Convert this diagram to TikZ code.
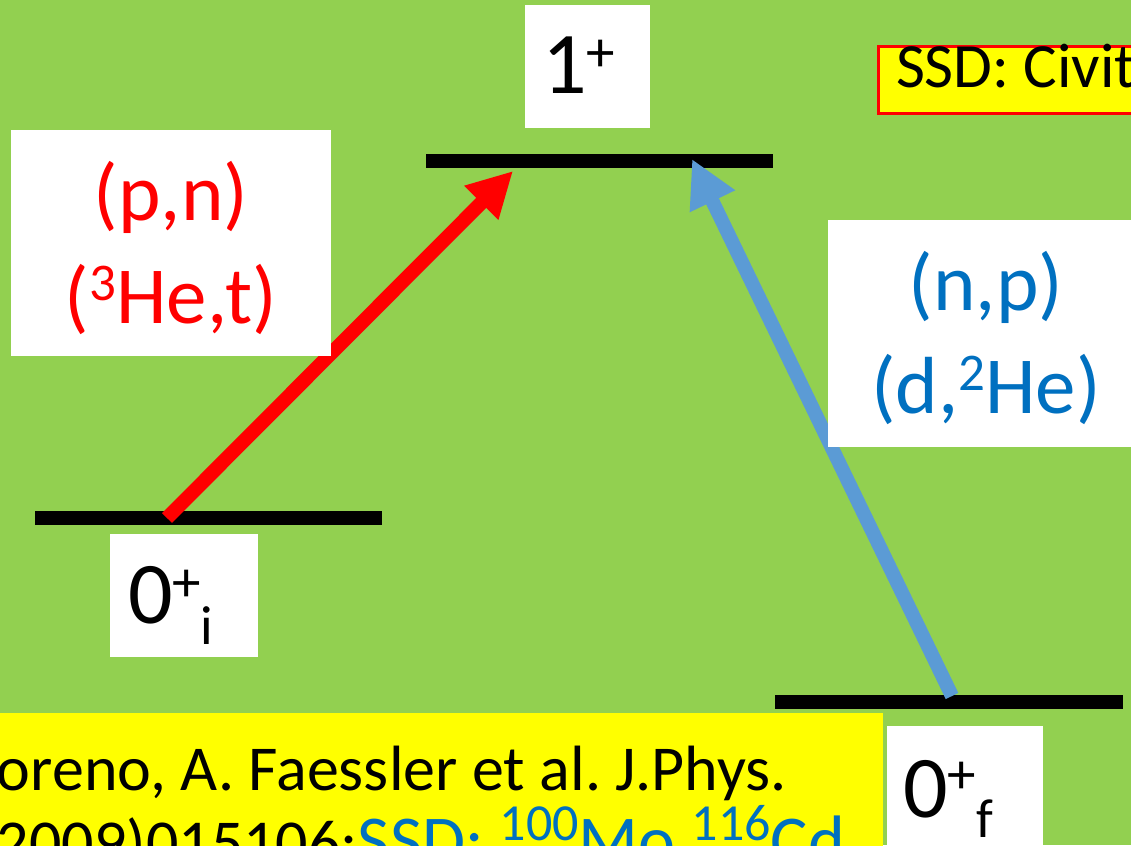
\documentclass[tikz,border=0pt]{standalone}
\usepackage{fontspec}
\setmainfont{Carlito}
\usetikzlibrary{arrows.meta}
\definecolor{bggreen}{HTML}{92D050}
\definecolor{arrblue}{HTML}{5B9BD5}
\definecolor{txtblue}{HTML}{0070C0}
\definecolor{ylw}{HTML}{FFFF00}
\newcommand{\mysup}[3]{\raisebox{#2}{\fontsize{#1}{#1}\selectfont #3}}
\newcommand{\natspace}{\spaceskip=0pt\xspaceskip=0pt\relax}
\frenchspacing
\begin{document}
\begin{tikzpicture}[x=1pt,y=-1pt,
  levelbar/.style={fill=black, draw=none, minimum height=14pt, inner sep=0pt, anchor=center},
  wbox/.style={fill=white, draw=none, inner sep=0pt, anchor=north west, outer sep=0pt},
  lvlfont/.style={font=\fontsize{88}{100}\selectfont, align=left},
  reacfont/.style={font=\fontsize{81}{103}\selectfont, align=center},
  redarrow/.style={draw=red, line width=14pt, -{Triangle[length=45pt,width=45pt]}},
  bluearrow/.style={draw=arrblue, line width=14pt, -{Triangle[length=47pt,width=47pt]}}
]
\useasboundingbox (0,0) rectangle (1131,845);
\clip (0,0) rectangle (1131,845);
\fill[bggreen] (0,0) rectangle (1131,845);

% energy levels
\node[levelbar, minimum width=347pt] (lvtop) at (599.5,161) {};
\node[levelbar, minimum width=347pt] (lvi) at (208.5,518) {};
\node[levelbar, minimum width=348pt] (lvf) at (949,702) {};

% arrows
\draw[redarrow] ([xshift=-41.5pt]lvi.center) -- ([xshift=-86.5pt,yshift=-10pt]lvtop.center);
\draw[bluearrow] ([xshift=3pt,yshift=6pt]lvf.center) -- ([xshift=92.5pt,yshift=2pt]lvtop.center);

% level labels
\node[wbox, lvlfont, inner xsep=17pt, text width=91pt, text height=89pt, text depth=34pt] (lab1) at (525,5)
  {1\mysup{57}{22pt}{+}};
\node[wbox, lvlfont, inner xsep=18pt, text width=112pt, text height=89pt, text depth=34pt] (lab0i) at (110,534)
  {0\mysup{57}{22pt}{+}\mysup{55}{-21pt}{i}};
\node[wbox, lvlfont, inner xsep=16pt, text width=124pt, text height=91pt, text depth=60pt] (lab0f) at (887,726)
  {0\mysup{57}{24pt}{+}\mysup{55}{-20pt}{f}};

% reaction labels
\node[wbox, reacfont, text=red, text width=320pt, text height=90pt, text depth=136pt] (pn) at (11,130)
  {(p,n)\\(\mysup{53}{23pt}{3}He,t)};
\node[wbox, reacfont, text=txtblue, text width=316pt, text height=90pt, text depth=137pt] (np) at (828,220)
  {(n,p)\\(d,\mysup{53}{23pt}{2}He)};

% SSD box top right
\node[draw=red, line width=3.5pt, fill=ylw, anchor=north west, outer sep=0pt, inner sep=0pt, inner xsep=17.5pt,
  font=\fontsize{63}{74}\selectfont, align=left, text width=300pt, text height=41.5pt, text depth=25.5pt] (ssd) at (878.5,46.5)
  {\natspace SSD: Civit};

% reference box bottom left
\node[fill=ylw, draw=none, anchor=north west, inner sep=0pt, outer sep=0pt,
  font=\fontsize{64}{74}\selectfont, align=left, text width=883pt, text height=77pt, text depth=200pt] (ref) at (0,713)
  {\natspace\hspace*{-3pt}oreno, A. Faessler et al. J.Phys.\\
   \hspace*{-3pt}2009)015106;{\color{txtblue}\fontsize{70}{74}\selectfont SSD: \mysup{52}{24pt}{100}Mo,\mysup{52}{24pt}{116}Cd}};
\end{tikzpicture}
\end{document}
